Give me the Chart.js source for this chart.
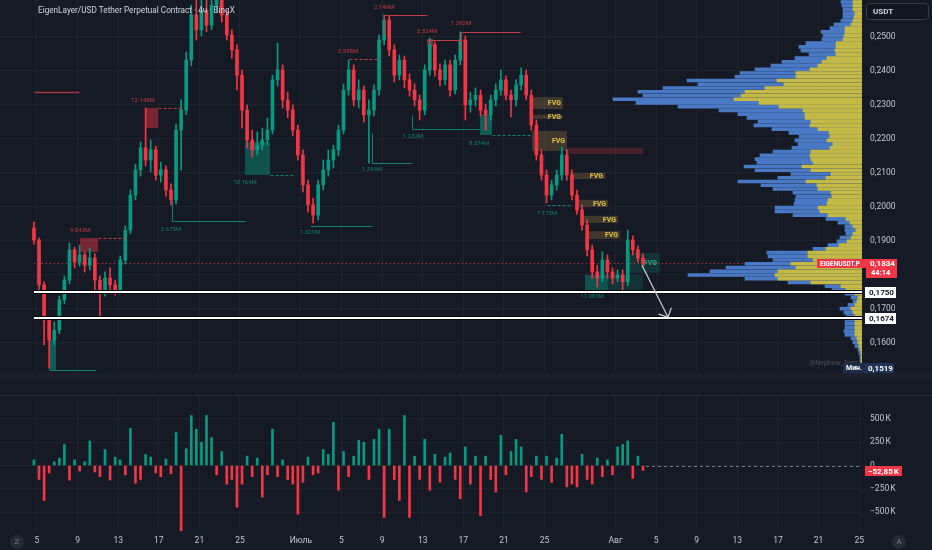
<!DOCTYPE html>
<html>
<head>
<meta charset="utf-8">
<script src="https://cdn.jsdelivr.net/npm/chart.js@4.4.1/dist/chart.umd.min.js"></script>
<style>
html, body { margin: 0; padding: 0; background: #161a25; width: 932px; height: 550px; overflow: hidden; font-family: Roboto, sans-serif; }
#main { position: absolute; left: 0; top: 0; }
#delta { position: absolute; left: 0; top: 396px; }
.strip { position: absolute; left: 0; width: 932px; height: 6px; top: 373px; background: #1c202b; }
.line { position: absolute; left: 0; width: 932px; height: 1px; top: 395px; background: #2a2e39; }
.btn { position: absolute; width: 14px; height: 14px; border-radius: 7px; background: #262a35; color: #787b86; font-size: 8px; line-height: 14px; text-align: center; }
</style>
</head>
<body>
<canvas id="main" width="932" height="378"></canvas>
<div class="strip"></div>
<div class="line"></div>
<canvas id="delta" width="932" height="154"></canvas>
<div class="btn" style="left:10px;top:535px">Z</div>
<div class="btn" style="left:892px;top:535px">A</div>
<script>
/* ==========================
   DATA
========================== */
// x axis: days counted from 5 June
const dayTicks = [0, 4, 8, 12, 16, 20, 26, 30, 34, 38, 42, 46, 50, 57, 61, 65, 69, 73, 77, 81];
const dayLabels = ["5", "9", "13", "17", "21", "25", "Июль", "5", "9", "13", "17", "21", "25", "Авг", "5", "9", "13", "17", "21", "25"];
const priceTicks = [0.16, 0.17, 0.18, 0.19, 0.20, 0.21, 0.22, 0.23, 0.24, 0.25];
const deltaTicks = [-500, -250, 0, 250, 500];

// candles, 12h each
const candleStart = -0.3;
const candleStep = 0.5;
const firstOpen = 0.1938;
const closes = [
    0.1903, 0.1771, 0.1668, 0.1609, 0.1638, 0.1727, 0.1785, 0.1874, 0.1838, 0.1859,
    0.1829, 0.1850, 0.1785, 0.1756, 0.1791, 0.1771, 0.1756, 0.1844, 0.1932, 0.2035,
    0.2109, 0.2174, 0.2138, 0.2168, 0.2094, 0.2109, 0.2050, 0.2021, 0.2226, 0.2285,
    0.2432, 0.2565, 0.2521, 0.2579, 0.2535, 0.2594, 0.2609, 0.2565, 0.2506, 0.2462,
    0.2388, 0.2285, 0.2197, 0.2168, 0.2182, 0.2197, 0.2226, 0.2374, 0.2403, 0.2315,
    0.2285, 0.2226, 0.2153, 0.2065, 0.2006, 0.1976, 0.2065, 0.2109, 0.2138, 0.2168,
    0.2226, 0.2344, 0.2403, 0.2315, 0.2344, 0.2271, 0.2285, 0.2344, 0.2491, 0.2550,
    0.2462, 0.2388, 0.2432, 0.2374, 0.2344, 0.2315, 0.2285, 0.2403, 0.2477, 0.2403,
    0.2374, 0.2418, 0.2344, 0.2432, 0.2491, 0.2300, 0.2315, 0.2329, 0.2285, 0.2271,
    0.2315, 0.2344, 0.2374, 0.2329, 0.2315, 0.2359, 0.2388, 0.2329, 0.2241, 0.2153,
    0.2094, 0.2035, 0.2065, 0.2094, 0.2153, 0.2094, 0.2035, 0.1991, 0.1947, 0.1874,
    0.1809, 0.1791, 0.1844, 0.1809, 0.1791, 0.1800, 0.1780, 0.1903, 0.1874, 0.1850,
    0.1834
];
const highs = [
    0.1956, 0.1909, 0.1780, 0.1674, 0.1662, 0.1738, 0.1797, 0.1894, 0.1882, 0.1888,
    0.1868, 0.1879, 0.1862, 0.1797, 0.1809, 0.1821, 0.1785, 0.1856, 0.1944, 0.2050,
    0.2126, 0.2191, 0.2291, 0.2197, 0.2179, 0.2132, 0.2121, 0.2068, 0.2244, 0.2315,
    0.2456, 0.2594, 0.2609, 0.2624, 0.2609, 0.2624, 0.2638, 0.2632, 0.2579, 0.2521,
    0.2477, 0.2403, 0.2300, 0.2226, 0.2221, 0.2232, 0.2262, 0.2388, 0.2482, 0.2418,
    0.2338, 0.2300, 0.2241, 0.2168, 0.2079, 0.2026, 0.2079, 0.2138, 0.2168, 0.2182,
    0.2241, 0.2362, 0.2432, 0.2418, 0.2374, 0.2356, 0.2315, 0.2359, 0.2506, 0.2565,
    0.2562, 0.2477, 0.2447, 0.2444, 0.2391, 0.2362, 0.2329, 0.2418, 0.2497, 0.2485,
    0.2421, 0.2432, 0.2432, 0.2447, 0.2515, 0.2503, 0.2338, 0.2350, 0.2344, 0.2303,
    0.2329, 0.2362, 0.2403, 0.2385, 0.2344, 0.2374, 0.2409, 0.2403, 0.2344, 0.2256,
    0.2168, 0.2109, 0.2079, 0.2109, 0.2176, 0.2168, 0.2109, 0.2050, 0.2006, 0.1962,
    0.1888, 0.1829, 0.1868, 0.1859, 0.1821, 0.1815, 0.1815, 0.1932, 0.1915, 0.1885,
    0.1862
];
const lows = [
    0.1891, 0.1750, 0.1594, 0.1526, 0.1594, 0.1627, 0.1715, 0.1774, 0.1821, 0.1826,
    0.1809, 0.1815, 0.1756, 0.1674, 0.1738, 0.1756, 0.1741, 0.1744, 0.1832, 0.1921,
    0.2021, 0.2091, 0.2121, 0.2103, 0.2079, 0.2073, 0.2032, 0.2006, 0.2009, 0.2109,
    0.2271, 0.2415, 0.2491, 0.2503, 0.2515, 0.2521, 0.2574, 0.2544, 0.2491, 0.2438,
    0.2344, 0.2232, 0.2174, 0.2147, 0.2153, 0.2168, 0.2182, 0.2215, 0.2356, 0.2291,
    0.2262, 0.2209, 0.2138, 0.2044, 0.1985, 0.1953, 0.1962, 0.2050, 0.2091, 0.2115,
    0.2150, 0.2215, 0.2329, 0.2297, 0.2291, 0.2250, 0.2129, 0.2268, 0.2329, 0.2477,
    0.2444, 0.2368, 0.2374, 0.2350, 0.2326, 0.2297, 0.2256, 0.2271, 0.2388, 0.2385,
    0.2356, 0.2359, 0.2326, 0.2332, 0.2418, 0.2256, 0.2279, 0.2297, 0.2268, 0.2226,
    0.2256, 0.2297, 0.2329, 0.2315, 0.2265, 0.2297, 0.2344, 0.2315, 0.2226, 0.2138,
    0.2079, 0.2012, 0.2021, 0.2050, 0.2079, 0.2079, 0.2021, 0.1979, 0.1932, 0.1856,
    0.1791, 0.1765, 0.1780, 0.1791, 0.1774, 0.1780, 0.1756, 0.1768, 0.1859, 0.1838,
    0.1826
];

// volume delta per candle, thousands
const deltaK = [
    60, -150, -376, -80, 40, 80, 226, -157, 60, -60,
    40, 263, -70, -120, 172, -157, 90, 60, -100, 398,
    -190, -150, 117, 90, -80, -120, 70, -90, 354, -723,
    180, 537, 390, 250, 537, 300, -100, 150, -200, -150,
    -449, -200, 100, -120, 80, -340, -100, 390, -120, 60,
    -150, -200, -522, -180, 90, -100, -80, 172, 120, 464,
    -266, 150, -120, 100, 270, 250, -150, 280, 390, -559,
    390, -150, -376, 537, -559, 100, -150, 281, -266, 120,
    -180, 90, 135, -150, -358, 200, -200, 100, -540, 100,
    -150, -285, 325, -100, 150, 281, 200, -285, -120, 100,
    -150, 100, -180, 80, 336, -230, -200, -230, 120, -150,
    -200, 80, -120, 60, -100, 200, 226, 263, -139, 100,
    -52.85
];

// visible range volume profile, millions per row
const profileLow = 0.1525;
const profileStep = 0.0011;
const profileTotal = [
    0.2, 0.2, 0.2, 0.2, 0.3, 0.4, 0.7, 0.9, 1.1, 1.7,
    1.8, 1.7, 1.7, 1.7, 1.6, 1.8, 2.2, 1.4, 0.9, 1.1,
    1.7, 3.0, 3.7, 7.4, 11.7, 17.4, 15.2, 13.6, 11.7, 8.9,
    9.4, 9.5, 4.9, 3.4, 2.5, 2.2, 1.6, 1.7, 1.7, 2.4,
    3.6, 6.9, 8.7, 8.7, 6.8, 6.7, 6.6, 6.9, 8.9, 10.1,
    12.4, 8.4, 7.1, 10.7, 11.8, 10.5, 10.7, 10.2, 8.9, 7.0,
    6.4, 6.7, 6.3, 7.3, 9.0, 10.8, 10.4, 11.5, 12.4, 14.3,
    18.4, 22.6, 24.9, 21.9, 22.4, 19.9, 16.4, 17.5, 12.7, 12.2,
    10.7, 9.1, 8.0, 6.7, 5.3, 6.1, 6.3, 5.6, 4.0, 3.9,
    4.1, 3.2, 2.8, 2.1, 1.9, 1.9, 1.9, 2.0, 2.1, 2.1
];
const profileBuy = [
    0.1, 0.1, 0.1, 0.1, 0.1, 0.2, 0.3, 0.4, 0.5, 0.7,
    0.7, 0.7, 0.7, 0.7, 0.7, 0.9, 1.1, 0.7, 0.5, 0.4,
    0.7, 1.6, 2.1, 5.1, 8.4, 8.7, 8.4, 6.6, 7.1, 4.9,
    5.4, 5.4, 3.6, 2.3, 1.5, 1.1, 0.9, 0.6, 0.9, 1.2,
    1.6, 3.4, 4.2, 4.4, 3.5, 3.4, 3.0, 3.1, 4.4, 4.5,
    5.6, 3.6, 3.1, 5.1, 6.0, 4.9, 5.1, 5.2, 5.1, 3.2,
    2.9, 3.5, 3.2, 3.3, 4.4, 5.2, 5.1, 5.7, 5.7, 5.9,
    8.3, 10.3, 12.8, 12.1, 11.7, 9.7, 7.8, 8.5, 6.6, 6.6,
    5.2, 4.4, 4.0, 3.5, 2.6, 2.7, 2.6, 2.6, 1.9, 1.8,
    1.7, 1.7, 1.1, 0.9, 0.8, 0.7, 0.9, 0.9, 0.9, 0.9
];

const lastPrice = 0.1834;
const levelPrices = [0.1750, 0.1674];
const lowestPrice = 0.1519;

/* ==========================
   STYLE
========================== */
const UP = "#089981";
const DOWN = "#f23645";
const GRID = "rgba(255,255,255,0.045)";
const AXIS_TEXT = "#c3c6ce";
const FONT = "Roboto";
const X_MIN = -3.645;
const X_MAX = 81.28;

const candleDays = closes.map((c, i) => candleStart + i * candleStep);
const opens = closes.map((c, i) => i === 0 ? firstOpen : closes[i - 1]);
const profileRows = profileTotal.map((v, k) => profileLow + k * profileStep);

function candleColor(i) {
    return closes[i] >= opens[i] ? UP : DOWN;
}

function fmtPrice(v) {
    return v.toFixed(4).replace(".", ",");
}

// keep the plot area exactly where the panes sit
function noPad(s) {
    s.paddingTop = 0;
    s.paddingBottom = 0;
    s.paddingLeft = 0;
    s.paddingRight = 0;
}

/* ==========================
   DRAWINGS (chart coordinates: day, price)
========================== */
const zones = [
    { d: [10.64, 11.92], p: [0.2291, 0.2232], fill: "rgba(242,54,69,0.45)" },
    { d: [4.24, 6.01], p: [0.1909, 0.1868], fill: "rgba(242,54,69,0.45)" },
    { d: [38.42, 39.01], p: [0.2494, 0.2474], fill: "rgba(242,54,69,0.55)" },
    { d: [20.49, 22.96], p: [0.2191, 0.2094], fill: "rgba(8,153,129,0.45)" },
    { d: [1.18, 1.87], p: [0.1609, 0.1521], fill: "rgba(8,153,129,0.55)" },
    { d: [43.65, 44.83], p: [0.2271, 0.2212], fill: "rgba(8,153,129,0.55)" },
    { d: [53.99, 56.26], p: [0.1800, 0.1756], fill: "rgba(8,153,129,0.45)" },
    { d: [56.26, 59.7], p: [0.1800, 0.1756], fill: "rgba(8,153,129,0.2)" },
    { d: [52.2, 59.7], p: [0.2174, 0.2156], fill: "rgba(242,54,69,0.22)" }
];
const fvgs = [
    { d: [48.77, 51.82], p: [0.2323, 0.2288] },
    { d: [48.77, 51.82], p: [0.2271, 0.2259] },
    { d: [48.77, 52.22], p: [0.2224, 0.2165] },
    { d: [52.51, 55.96], p: [0.2100, 0.2082] },
    { d: [53.2, 56.26], p: [0.2021, 0.2000] },
    { d: [53.79, 57.24], p: [0.1974, 0.1953] },
    { d: [54.19, 57.44], p: [0.1929, 0.1906] }
];
const tealFvg = { d: [58.13, 61.38], p: [0.1865, 0.1806] };

const RED_LINE = "#c23c47";
const TEAL_LINE = "#12806d";
const pivots = [
    { pts: [[-0.3, 0.2338], [4.14, 0.2338]], color: "#a6343e", w: 1.5 },
    { pts: [[11.92, 0.2291], [14.29, 0.2291]], color: RED_LINE, dash: [3, 2] },
    { pts: [[6.01, 0.1909], [8.67, 0.1909]], color: RED_LINE, dash: [3, 2] },
    { pts: [[22.96, 0.2094], [25.42, 0.2094]], color: TEAL_LINE, dash: [3, 2] },
    { pts: [[13.3, 0.2021], [13.3, 0.1959], [20.49, 0.1959]], color: TEAL_LINE },
    { pts: [[26.9, 0.1944], [33.0, 0.1944]], color: TEAL_LINE },
    { pts: [[33.0, 0.2218], [33.0, 0.2129], [36.95, 0.2129]], color: TEAL_LINE },
    { pts: [[30.74, 0.2435], [33.6, 0.2435]], color: RED_LINE, dash: [3, 2] },
    { pts: [[34.19, 0.2506], [34.19, 0.2565], [38.42, 0.2565]], color: RED_LINE },
    { pts: [[38.42, 0.2491], [41.77, 0.2491]], color: RED_LINE },
    { pts: [[41.77, 0.2462], [41.77, 0.2515], [47.59, 0.2515]], color: RED_LINE },
    { pts: [[36.95, 0.2271], [36.95, 0.2229], [43.65, 0.2229]], color: TEAL_LINE },
    { pts: [[44.83, 0.2212], [48.77, 0.2212]], color: TEAL_LINE, dash: [3, 2] },
    { pts: [[50.25, 0.2006], [52.51, 0.2006]], color: TEAL_LINE, dash: [3, 2] },
    { pts: [[1.18, 0.1521], [5.81, 0.1521]], color: TEAL_LINE }
];
const volumeTags = [
    { t: "12.148M", d: 10.44, p: 0.2312, c: "#c23c47" },
    { t: "9.843M", d: 4.24, p: 0.1930, c: "#c23c47" },
    { t: "2.598M", d: 30.64, p: 0.2456, c: "#c23c47" },
    { t: "2.149M", d: 34.19, p: 0.2588, c: "#c23c47" },
    { t: "2.324M", d: 38.42, p: 0.2515, c: "#c23c47" },
    { t: "1.292M", d: 41.77, p: 0.2541, c: "#c23c47" },
    { t: "10.164M", d: 20.49, p: 0.2071, c: "#12806d" },
    { t: "2.675M", d: 13.2, p: 0.1935, c: "#12806d" },
    { t: "1.321M", d: 26.9, p: 0.1924, c: "#12806d" },
    { t: "1.343M", d: 33.0, p: 0.2109, c: "#12806d" },
    { t: "1.232M", d: 37.04, p: 0.2206, c: "#12806d" },
    { t: "8.374M", d: 43.55, p: 0.2188, c: "#12806d" },
    { t: "7.175M", d: 50.25, p: 0.1982, c: "#12806d" },
    { t: "11.083M", d: 54.68, p: 0.1738, c: "#12806d" }
];
const arrowFrom = [59.6, 0.1829];
const arrowTo = [62.17, 0.1676];

/* ==========================
   PLUGINS
========================== */
function tagBox(ctx, x, y, w, h, fill, text, color, font, tx) {
    ctx.fillStyle = fill;
    ctx.fillRect(x, y, w, h);
    ctx.fillStyle = color;
    ctx.font = font;
    ctx.textBaseline = "middle";
    ctx.textAlign = "left";
    ctx.fillText(text, tx !== undefined ? tx : x + 4, y + h / 2 + 0.5);
}

const mainMarks = {
    id: "mainMarks",
    beforeDatasetsDraw(chart) {
        const { ctx, chartArea, scales } = chart;
        const X = d => scales.x.getPixelForValue(d);
        const Y = p => scales.y.getPixelForValue(p);
        ctx.save();
        ctx.beginPath();
        ctx.rect(chartArea.left, chartArea.top, chartArea.width, chartArea.height);
        ctx.clip();

        zones.forEach(z => {
            ctx.fillStyle = z.fill;
            ctx.fillRect(X(z.d[0]), Y(z.p[0]), X(z.d[1]) - X(z.d[0]), Y(z.p[1]) - Y(z.p[0]));
        });

        ctx.font = "bold 7px " + FONT;
        ctx.textAlign = "right";
        ctx.textBaseline = "middle";
        fvgs.forEach(f => {
            ctx.fillStyle = "rgba(125,98,58,0.42)";
            ctx.fillRect(X(f.d[0]), Y(f.p[0]), X(f.d[1]) - X(f.d[0]), Y(f.p[1]) - Y(f.p[0]));
            ctx.fillStyle = "#d9c14a";
            ctx.fillText("FVG", X(f.d[1]) - 2, (Y(f.p[0]) + Y(f.p[1])) / 2 + 0.5);
        });
        ctx.fillStyle = "rgba(8,153,129,0.2)";
        ctx.fillRect(X(tealFvg.d[0]), Y(tealFvg.p[0]), X(tealFvg.d[1]) - X(tealFvg.d[0]), Y(tealFvg.p[1]) - Y(tealFvg.p[0]));
        ctx.fillStyle = "#1fae93";
        ctx.fillText("FVG", X(tealFvg.d[1]) - 3, (Y(tealFvg.p[0]) + Y(tealFvg.p[1])) / 2 + 0.5);

        // last price line
        ctx.strokeStyle = DOWN;
        ctx.lineWidth = 1;
        ctx.setLineDash([1, 3]);
        ctx.beginPath();
        ctx.moveTo(X(candleStart), Math.round(Y(lastPrice)) + 0.5);
        ctx.lineTo(chartArea.right, Math.round(Y(lastPrice)) + 0.5);
        ctx.stroke();
        ctx.restore();
    },
    afterDatasetsDraw(chart) {
        const { ctx, chartArea, scales } = chart;
        const X = d => scales.x.getPixelForValue(d);
        const Y = p => scales.y.getPixelForValue(p);
        ctx.save();
        ctx.beginPath();
        ctx.rect(chartArea.left, chartArea.top, chartArea.width, chartArea.height);
        ctx.clip();

        pivots.forEach(l => {
            ctx.strokeStyle = l.color;
            ctx.lineWidth = l.w || 1;
            ctx.setLineDash(l.dash || []);
            ctx.beginPath();
            l.pts.forEach((pt, i) => {
                const px = Math.round(X(pt[0])) + 0.5;
                const py = Math.round(Y(pt[1])) + 0.5;
                if (i === 0) ctx.moveTo(px, py); else ctx.lineTo(px, py);
            });
            ctx.stroke();
        });
        ctx.setLineDash([]);

        ctx.font = "6px " + FONT;
        ctx.textAlign = "center";
        ctx.textBaseline = "middle";
        volumeTags.forEach(t => {
            ctx.fillStyle = t.c;
            ctx.fillText(t.t, X(t.d), Y(t.p));
        });

        // key levels
        levelPrices.forEach(p => {
            const y = Math.round(Y(p));
            ctx.strokeStyle = "#05070b";
            ctx.lineWidth = 4;
            ctx.beginPath();
            ctx.moveTo(X(candleStart), y);
            ctx.lineTo(chartArea.right, y);
            ctx.stroke();
            ctx.strokeStyle = "#ffffff";
            ctx.lineWidth = 2;
            ctx.beginPath();
            ctx.moveTo(X(candleStart), y);
            ctx.lineTo(chartArea.right, y);
            ctx.stroke();
        });

        // projection arrow
        const ax = X(arrowFrom[0]), ay = Y(arrowFrom[1]);
        const bx = X(arrowTo[0]), by = Y(arrowTo[1]);
        const ang = Math.atan2(by - ay, bx - ax);
        ctx.strokeStyle = "#c8cad0";
        ctx.lineWidth = 1.2;
        ctx.beginPath();
        ctx.moveTo(ax, ay);
        ctx.lineTo(bx, by);
        ctx.moveTo(bx - 10 * Math.cos(ang - 0.8), by - 10 * Math.sin(ang - 0.8));
        ctx.lineTo(bx, by);
        ctx.lineTo(bx - 10 * Math.cos(ang + 0.8), by - 10 * Math.sin(ang + 0.8));
        ctx.stroke();

        ctx.fillStyle = "rgba(190,192,200,0.3)";
        ctx.font = "7px " + FONT;
        ctx.textAlign = "right";
        ctx.fillText("@Nephew_Sam", chartArea.right - 4, chartArea.bottom - 9);
        ctx.restore();
    },
    afterDraw(chart) {
        const { ctx, chartArea, scales } = chart;
        const Y = p => scales.y.getPixelForValue(p);
        const R = chartArea.right;
        ctx.save();

        ctx.fillStyle = "#d1d4dc";
        ctx.font = "8.2px " + FONT;
        ctx.textAlign = "left";
        ctx.textBaseline = "middle";
        ctx.fillText("EigenLayer/USD Tether Perpetual Contract · 4ч · BingX", 38, 11);

        // currency button
        ctx.fillStyle = "#131722";
        ctx.strokeStyle = "#3a3e4a";
        ctx.lineWidth = 1;
        ctx.beginPath();
        ctx.roundRect(866.5, 3.5, 62, 16, 3);
        ctx.fill();
        ctx.stroke();
        ctx.fillStyle = "#d1d4dc";
        ctx.font = "bold 8px " + FONT;
        ctx.fillText("USDT", 873, 12);

        // last price tags
        const yl = Math.round(Y(lastPrice));
        tagBox(ctx, R - 45, yl - 4, 49, 9, DOWN, "EIGENUSDT.P", "#ffffff", "bold 6.5px " + FONT, R - 42);
        ctx.fillStyle = DOWN;
        ctx.fillRect(R + 4, yl - 4, 31, 19);
        ctx.fillStyle = "#ffffff";
        ctx.font = "bold 8px " + FONT;
        ctx.fillText(fmtPrice(lastPrice), R + 8, yl + 1);
        ctx.font = "bold 7.5px " + FONT;
        ctx.fillText("44:14", R + 9, yl + 10);

        levelPrices.forEach(p => {
            const y = Math.round(Y(p));
            tagBox(ctx, R + 3, y - 5, 31, 11, "#ffffff", fmtPrice(p), "#131722", "bold 8px " + FONT, R + 7);
        });

        const ym = Math.round(Y(lowestPrice)) - 3;
        tagBox(ctx, R - 19, ym - 5, 22, 10, "#1d2d4a", "Мин.", "#ffffff", "bold 7px " + FONT, R - 16);
        tagBox(ctx, R + 3, ym - 5, 29, 10, "#213457", fmtPrice(lowestPrice), "#ffffff", "bold 8px " + FONT, R + 6);
        ctx.restore();
    }
};

const deltaMarks = {
    id: "deltaMarks",
    afterDraw(chart) {
        const { ctx, chartArea, scales } = chart;
        const X = d => scales.x.getPixelForValue(d);
        const Y = v => scales.y.getPixelForValue(v);
        const last = deltaK[deltaK.length - 1];
        ctx.save();
        ctx.strokeStyle = "#787b86";
        ctx.lineWidth = 1;
        ctx.setLineDash([3, 3]);
        ctx.beginPath();
        ctx.moveTo(X(candleDays[candleDays.length - 1]) + 3, Math.round(Y(0)) + 0.5);
        ctx.lineTo(chartArea.right, Math.round(Y(0)) + 0.5);
        ctx.stroke();
        ctx.setLineDash([]);
        const label = "\u2212" + Math.abs(last).toFixed(2).replace(".", ",") + "\u202FK";
        tagBox(ctx, chartArea.right + 3, Math.round(Y(last)) - 4, 37, 10, DOWN, label, "#ffffff", "bold 8px " + FONT, chartArea.right + 6);
        ctx.restore();
    }
};

/* ==========================
   PRICE PANE
========================== */
new Chart(document.getElementById("main"), {
    type: "bar",
    data: {
        datasets: [
            {
                label: "body",
                data: closes.map((c, i) => ({ x: candleDays[i], y: [opens[i], c] })),
                backgroundColor: ctx => candleColor(ctx.dataIndex),
                barThickness: 3,
                grouped: false,
                order: 0,
                xAxisID: "x",
                yAxisID: "y"
            },
            {
                label: "wick",
                data: closes.map((c, i) => ({ x: candleDays[i], y: [lows[i], highs[i]] })),
                backgroundColor: ctx => candleColor(ctx.dataIndex),
                barThickness: 1,
                grouped: false,
                order: 1,
                xAxisID: "x",
                yAxisID: "y"
            },
            {
                label: "buy volume",
                indexAxis: "y",
                data: profileRows.map((p, k) => ({ y: p, x: profileBuy[k] })),
                backgroundColor: "rgba(210,192,54,0.9)",
                barThickness: 3,
                grouped: false,
                order: 2,
                xAxisID: "xp",
                yAxisID: "y"
            },
            {
                label: "total volume",
                indexAxis: "y",
                data: profileRows.map((p, k) => ({ y: p, x: profileTotal[k] })),
                backgroundColor: "rgba(76,126,206,0.95)",
                barThickness: 3,
                grouped: false,
                order: 3,
                xAxisID: "xp",
                yAxisID: "y"
            }
        ]
    },
    options: {
        responsive: false,
        animation: false,
        events: [],
        layout: { padding: { left: 0, right: 0, top: 0, bottom: 6 } },
        plugins: { legend: { display: false }, tooltip: { enabled: false } },
        scales: {
            x: {
                type: "linear", axis: "x", min: X_MIN, max: X_MAX, offset: false,
                ticks: { display: false },
                grid: { color: GRID, drawTicks: false, offset: false },
                border: { display: false },
                afterBuildTicks: s => { s.ticks = dayTicks.map(v => ({ value: v })); },
                afterFit: s => { s.height = 0; noPad(s); }
            },
            xp: {
                type: "linear", axis: "x", display: false, min: 0, max: 86.2, reverse: true, offset: false,
                grid: { offset: false }
            },
            y: {
                type: "linear", axis: "y", position: "right", min: 0.15147, max: 0.26088,
                offset: false, beginAtZero: false,
                ticks: { color: AXIS_TEXT, font: { family: FONT, size: 8.5 }, padding: 8, callback: v => fmtPrice(v) },
                grid: { color: GRID, drawTicks: false, offset: false },
                border: { display: false },
                afterBuildTicks: s => { s.ticks = priceTicks.map(v => ({ value: v })); },
                afterFit: s => { s.width = 70; noPad(s); }
            }
        }
    },
    plugins: [mainMarks]
});

/* ==========================
   DELTA PANE
========================== */
new Chart(document.getElementById("delta"), {
    type: "bar",
    data: {
        datasets: [{
            label: "delta",
            data: deltaK.map((v, i) => ({ x: candleDays[i], y: v })),
            backgroundColor: ctx => deltaK[ctx.dataIndex] >= 0 ? UP : DOWN,
            barThickness: 2,
            grouped: false
        }]
    },
    options: {
        responsive: false,
        animation: false,
        events: [],
        layout: { padding: 0 },
        plugins: { legend: { display: false }, tooltip: { enabled: false } },
        scales: {
            x: {
                type: "linear", min: X_MIN, max: X_MAX, offset: false,
                ticks: {
                    color: AXIS_TEXT, font: { family: FONT, size: 8.5 }, padding: 5,
                    maxRotation: 0, autoSkip: false,
                    callback: (v, i) => dayLabels[i]
                },
                grid: { color: GRID, drawTicks: false, offset: false },
                border: { display: false },
                afterBuildTicks: s => { s.ticks = dayTicks.map(v => ({ value: v })); },
                afterFit: s => { s.height = 19; noPad(s); }
            },
            y: {
                type: "linear", position: "right", min: -704, max: 747, beginAtZero: false,
                ticks: {
                    color: AXIS_TEXT, font: { family: FONT, size: 8.5 }, padding: 8,
                    callback: v => v === 0 ? "0" : (v < 0 ? "\u2212" : "") + Math.abs(v) + "\u202FK"
                },
                grid: { color: GRID, drawTicks: false },
                border: { display: false },
                afterBuildTicks: s => { s.ticks = deltaTicks.map(v => ({ value: v })); },
                afterFit: s => { s.width = 70; noPad(s); }
            }
        }
    },
    plugins: [deltaMarks]
});
</script>
</body>
</html>
